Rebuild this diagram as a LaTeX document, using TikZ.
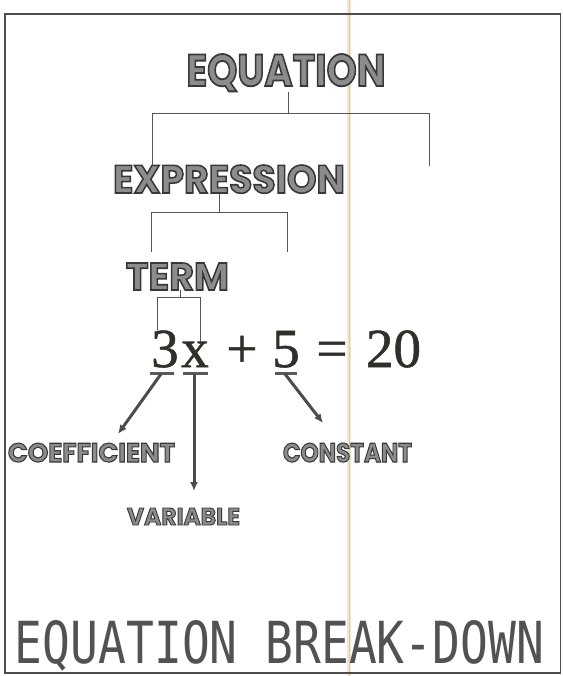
\documentclass[tikz,border=0pt]{standalone}
\usepackage{fontspec}
\usepackage{graphicx}
\usetikzlibrary{arrows.meta}
\newfontfamily\lblfont{Poppins}
\newfontfamily\eqfont[FakeBold=1.0]{Liberation Serif}
\newfontfamily\lcdfont{DejaVu Sans Mono}
\definecolor{inkgray}{HTML}{555555}
\definecolor{lblfill}{HTML}{8C8C8C}
\definecolor{eqink}{HTML}{2E302A}
\definecolor{crease}{HTML}{EFE8CF}
\definecolor{creasedark}{HTML}{D9CFAA}
\newcommand{\outlineon}{\special{pdf:literal direct 2 Tr 1.6 w 0.22 0.22 0.22 RG}}
\newcommand{\outlineoff}{\special{pdf:literal direct 0 Tr}}
\newcommand{\lbl}[3]{\resizebox{#1pt}{#2pt}{\lblfont\fontsize{40}{40}\selectfont\bfseries\color{lblfill}\outlineon #3\outlineoff}}
\tikzset{
  lblnode/.style={inner sep=0pt, anchor=base},
  eqpart/.style={inner sep=0pt, anchor=base, text=eqink, font=\eqfont\fontsize{55}{55}\selectfont},
  treeline/.style={draw=inkgray, line width=0.9pt},
  uline/.style={draw=gray!70!black, line width=3pt},
  pointer/.style={draw=gray!60!black, line width=3pt, -{Latex[length=9pt,width=8pt]}},
  frame/.style={draw=black!70, line width=1.2pt}
}
\begin{document}
\begin{tikzpicture}[x=1pt,y=-1pt]
\useasboundingbox (0,0) rectangle (562,676);
% paper crease
\draw[crease, line width=4pt] (349,0) -- (349,676);
\draw[creasedark, line width=0.6pt] (349,0) -- (349,676);
% frame
\draw[frame] (5,14) rectangle (560.5,673);

% labels
\node[lblnode] (equation) at (286,86) {\lbl{199}{32}{EQUATION}};
\node[lblnode] (expression) at (229,193) {\lbl{232}{28}{EXPRESSION}};
\node[lblnode] (term) at (177.5,290) {\lbl{103}{27}{TERM}};
\node[lblnode] (coef) at (91.5,462) {\lbl{167}{19}{COEFFICIENT}};
\node[lblnode] (const) at (347.5,462) {\lbl{129}{19}{CONSTANT}};
\node[lblnode] (var) at (183.5,525) {\lbl{113}{17}{VARIABLE}};

% equation parts
\node[eqpart] (three) at (165,367) {3};
\node[eqpart] (xvar) at (195,367) {x};
\node[eqpart] (plus) at (242,367) {+};
\node[eqpart] (five) at (286,367) {5};
\node[eqpart] (equals) at (332,367) {=};
\node[eqpart] (twenty) at (393.5,367) {20};

% tree: equation
\coordinate (eqj) at (288,113);
\coordinate (eqL) at (152,113);
\coordinate (eqR) at (429,113);
\coordinate (eqRend) at (429,166);
\draw[treeline] (equation.south -| eqj) -- (eqj);
\draw[treeline] (eqL |- expression.north) -- (eqL) -- (eqR) -- (eqRend);
% tree: expression
\coordinate (exj) at (219,212);
\coordinate (exL) at (151,212);
\coordinate (exR) at (287,212);
\coordinate (exRend) at (287,252);
\coordinate (exLend) at (151,252);
\draw[treeline] (exj |- expression.base) -- (exj);
\draw[treeline] (exLend) -- (exL) -- (exR) -- (exRend);
% tree: term
\coordinate (tj) at (180,297);
\coordinate (tL) at (157,297);
\coordinate (tR) at (200,297);
\draw[treeline] (tj |- term.base) -- (tj);
\draw[treeline] (tL |- three.north) -- (tL) -- (tR) -- (tR |- xvar.north);

% underlines
\coordinate (u3a) at (150,373);
\coordinate (u3b) at (174,373);
\coordinate (uxa) at (183,373);
\coordinate (uxb) at (208,373);
\coordinate (u5a) at (275,373);
\coordinate (u5b) at (297,373);
\draw[uline] (u3a) -- (u3b);
\draw[uline] (uxa) -- (uxb);
\draw[uline] (u5a) -- (u5b);

% pointers
\coordinate (c3) at (161,374);
\coordinate (cx) at (194,374);
\coordinate (c5) at (285,374);
\coordinate (tipcoef) at (118,434);
\coordinate (tipvar) at (194,491);
\coordinate (tipconst) at (323,423);
\draw[pointer] (c3) -- (tipcoef);
\draw[pointer] (cx) -- (tipvar);
\draw[pointer] (c5) -- (tipconst);

% title
\node[inner sep=0pt, anchor=base] (title) at (279.5,663) {\resizebox{529pt}{43pt}{\lcdfont\color{black!68}EQUATION BREAK-DOWN}};
\end{tikzpicture}
\end{document}
